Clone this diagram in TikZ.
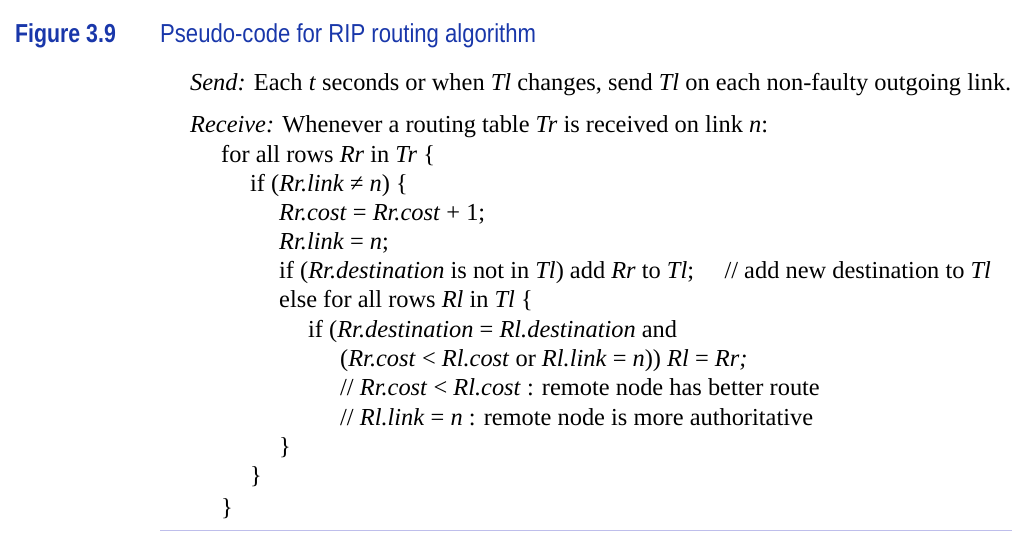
\documentclass[tikz,border=0pt]{standalone}
\usepackage{fontspec}
\setmainfont{Liberation Serif}
\newfontfamily\hd{Liberation Sans}
\definecolor{hblue}{RGB}{25,55,170}
\definecolor{rule}{RGB}{190,190,235}
\begin{document}
\begin{tikzpicture}[x=1pt,y=-1pt]
\useasboundingbox (0,0) rectangle (1024,533);
\tikzset{ln/.style={anchor=west,inner sep=0pt,font=\fontsize{24.4}{26}\selectfont,text height=16pt,text depth=5pt},
 hd/.style={anchor=west,inner sep=0pt,text=hblue,font=\hd\fontsize{26}{28}\selectfont}}
\node[hd,xscale=0.82] (fig) at (15,36) {\bfseries Figure 3.9};
\node[hd,xscale=0.85] (cap) at (160,36) {Pseudo-code for RIP routing algorithm};
\node[ln] (l1) at (190,85) {\textit{Send:} Each \textit{t} seconds or when \textit{Tl} changes, send \textit{Tl} on each non-faulty outgoing link.};
\node[ln] (l2) at (190,127) {\textit{Receive:} Whenever a routing table \textit{Tr} is received on link \textit{n}:};
\node[ln] (l3) at (221,157) {for all rows \textit{Rr} in \textit{Tr} \{};
\node[ln] (l4) at (250,186) {if (\textit{Rr.link} ≠ \textit{n}) \{};
\node[ln] (l5) at (279,215) {\textit{Rr.cost} = \textit{Rr.cost} + 1;};
\node[ln] (l6) at (279,244) {\textit{Rr.link} = \textit{n};};
\node[ln] (l7) at (279,273) {if (\textit{Rr.destination} is not in \textit{Tl}) add \textit{Rr} to \textit{Tl};\quad\ // add new destination to \textit{Tl}};
\node[ln] (l8) at (279,302) {else for all rows \textit{Rl} in \textit{Tl} \{};
\node[ln] (l9) at (308,332) {if (\textit{Rr.destination} = \textit{Rl.destination} and};
\node[ln] (l10) at (340,361) {(\textit{Rr.cost} < \textit{Rl.cost} or \textit{Rl.link} = \textit{n})) \textit{Rl} = \textit{Rr;}};
\node[ln] (l11) at (340,390) {// \textit{Rr.cost} < \textit{Rl.cost} : remote node has better route};
\node[ln] (l12) at (340,420) {// \textit{Rl.link} = \textit{n} : remote node is more authoritative};
\node[ln] (c1) at (279,449) {\}};
\node[ln] (c2) at (250,478) {\}};
\node[ln] (c3) at (221,510) {\}};
\coordinate (ra) at (160,530);
\coordinate (rb) at (1012,530);
\draw[rule,line width=1pt] (ra) -- (rb);
\end{tikzpicture}
\end{document}
